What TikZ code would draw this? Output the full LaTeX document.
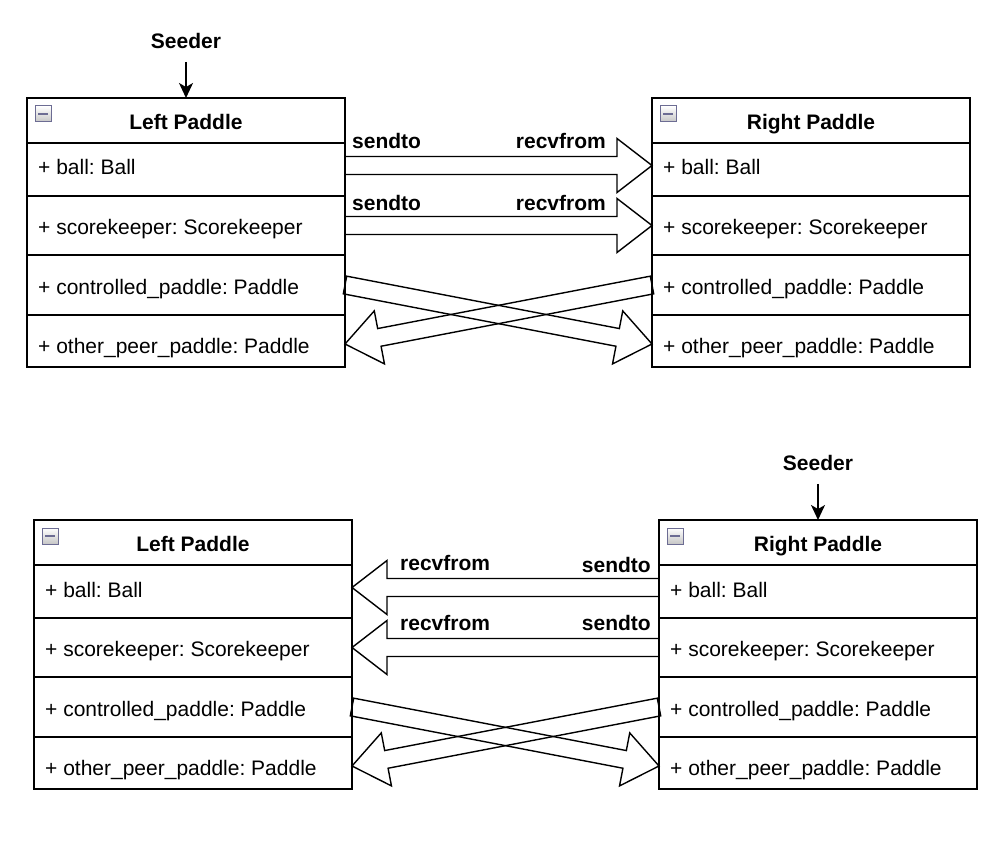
\documentclass[tikz,border=0pt]{standalone}
\usepackage{fontspec}
\setmainfont{Liberation Sans}
\usetikzlibrary{positioning, calc, arrows.meta}

\newcommand{\diagfont}{\fontsize{21pt}{25pt}\selectfont\frenchspacing}

\tikzset{
	classhead/.style = {draw, line width=1.6pt, outer sep=0pt, inner sep=0pt,
		minimum width=318pt, minimum height=45pt, text height=18pt, text depth=0pt,
		font=\diagfont\bfseries},
	classrow/.style = {draw, line width=1.6pt, outer sep=0pt, inner sep=0pt,
		minimum width=318pt},
	attr/.style = {anchor=base west, inner sep=0pt, font=\diagfont},
	msg/.style = {inner sep=0pt, font=\diagfont\bfseries},
	collapsebox/.style = {draw=gray!85!blue, line width=1pt, top color=white,
		bottom color=gray!45, minimum size=16pt, inner sep=0pt,
		path picture={\draw[line width=2.6pt] ([xshift=-5pt]path picture bounding box.center)
			-- ([xshift=5pt]path picture bounding box.center);}},
	flexline/.style = {draw, line width=1.4pt, line join=miter},
	seedarrow/.style = {line width=1.5pt, -{Stealth[length=15pt, width=14pt, inset=4pt]}}
}

% class box with its four attribute rows
\newcommand{\paddleclass}[4]{%
	\node[classhead, anchor=north west] (#1-head) at (#2, #3) {#4};
	\node[collapsebox] (#1-icon) at ($(#1-head.north west) + (16, 16)$) {};
	\node[classrow, minimum height=53pt, below=0pt of #1-head] (#1-ball) {};
	\node[classrow, minimum height=59pt, below=0pt of #1-ball] (#1-score) {};
	\node[classrow, minimum height=60pt, below=0pt of #1-score] (#1-ctrl) {};
	\node[classrow, minimum height=52pt, below=0pt of #1-ctrl] (#1-other) {};
	\node[attr] (#1-ball-txt) at ($(#1-ball.north west) + (11, 32)$) {+ ball: Ball};
	\node[attr] (#1-score-txt) at ($(#1-score.north west) + (11, 38)$) {+ scorekeeper: Scorekeeper};
	\node[attr] (#1-ctrl-txt) at ($(#1-ctrl.north west) + (11, 39)$) {+ controlled\_paddle: Paddle};
	\node[attr] (#1-other-txt) at ($(#1-other.north west) + (11, 38)$) {+ other\_peer\_paddle: Paddle};
}

% wide block arrow from #1 to #2
\newcommand{\flexarrow}[2]{%
	\coordinate (fa-s) at (#1);
	\coordinate (fa-e) at (#2);
	\coordinate (fa-b) at ($(fa-e)!35pt!(fa-s)$);
	\draw[flexline] ($(fa-s)!9pt!90:(fa-e)$) -- ($(fa-b)!9pt!-90:(fa-s)$)
		-- ($(fa-b)!27pt!-90:(fa-s)$) -- (fa-e) -- ($(fa-b)!27pt!90:(fa-s)$)
		-- ($(fa-b)!9pt!90:(fa-s)$) -- ($(fa-s)!9pt!-90:(fa-e)$) -- cycle;
}

\begin{document}
\begin{tikzpicture}[x=1pt, y=-1pt]

	\useasboundingbox (0, 0) rectangle (1000, 845);

	% Classes

	\paddleclass{La}{27}{98}{Left Paddle}
	\paddleclass{Ra}{652}{98}{Right Paddle}
	\paddleclass{Lb}{34}{520}{Left Paddle}
	\paddleclass{Rb}{659}{520}{Right Paddle}

	% Seeders

	\node[msg] (seedA) at (186, 41) {Seeder};
	\node[msg] (seedB) at (818, 463) {Seeder};
	\draw[seedarrow, shorten <=13pt] (seedA.south) -- (La-head.north);
	\draw[seedarrow, shorten <=13pt] (seedB.south) -- (Rb-head.north);

	% Messages, top

	\flexarrow{$(La-ball.east) + (0, -4)$}{$(Ra-ball.west) + (0, -4)$}
	\flexarrow{La-score.east}{Ra-score.west}
	\flexarrow{La-ctrl.east}{$(Ra-other.west) + (0, 3)$}
	\flexarrow{Ra-ctrl.west}{$(La-other.east) + (0, 3)$}

	\node[msg, anchor=base west] (sendA1) at ($(La-ball.east) + (7, -21)$) {sendto};
	\node[msg, anchor=base east] (recvA1) at ($(Ra-ball.west) + (-46, -21)$) {recvfrom};
	\node[msg, anchor=base west] (sendA2) at ($(La-score.east) + (7, -15)$) {sendto};
	\node[msg, anchor=base east] (recvA2) at ($(Ra-score.west) + (-46, -15)$) {recvfrom};

	% Messages, bottom

	\flexarrow{$(Rb-ball.west) + (0, -4)$}{$(Lb-ball.east) + (0, -4)$}
	\flexarrow{Rb-score.west}{Lb-score.east}
	\flexarrow{Lb-ctrl.east}{$(Rb-other.west) + (0, 3)$}
	\flexarrow{Rb-ctrl.west}{$(Lb-other.east) + (0, 3)$}

	\node[msg, anchor=base west] (recvB1) at ($(Lb-ball.east) + (48, -21)$) {recvfrom};
	\node[msg, anchor=base east] (sendB1) at ($(Rb-ball.west) + (-8, -19)$) {sendto};
	\node[msg, anchor=base west] (recvB2) at ($(Lb-score.east) + (48, -17)$) {recvfrom};
	\node[msg, anchor=base east] (sendB2) at ($(Rb-score.west) + (-8, -17)$) {sendto};

\end{tikzpicture}
\end{document}
